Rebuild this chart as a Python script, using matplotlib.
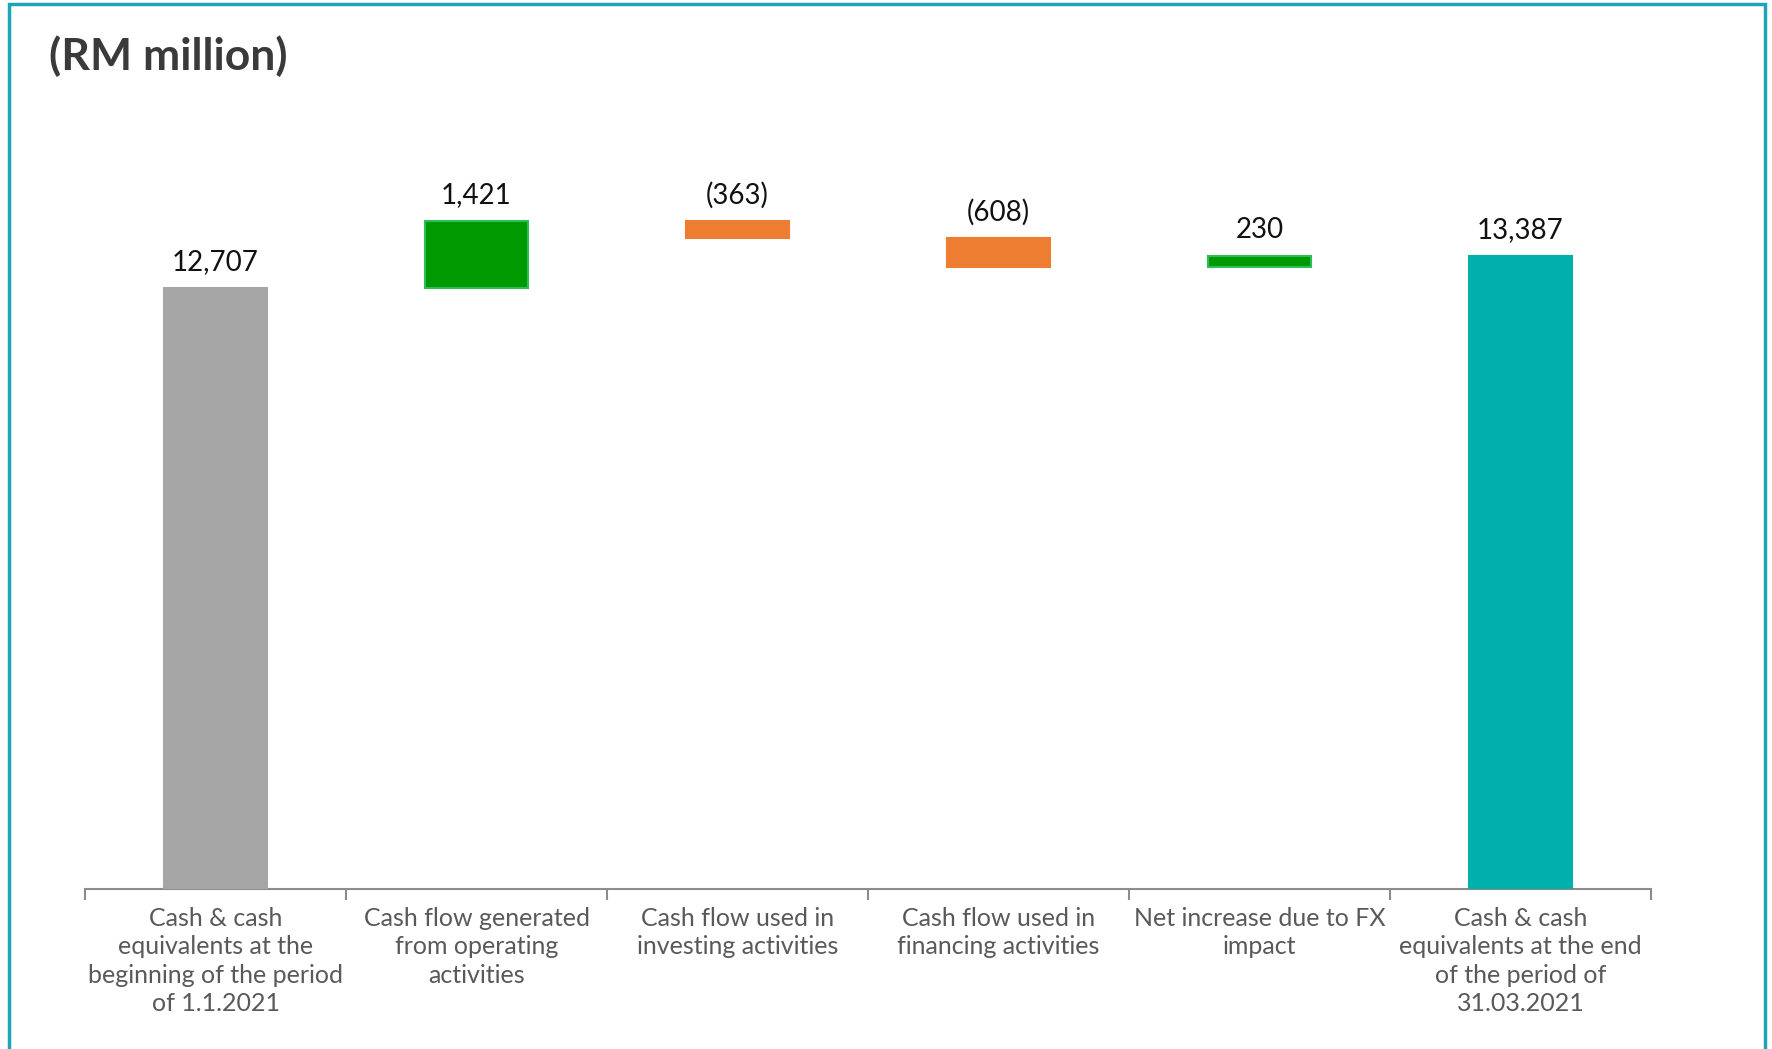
import matplotlib

matplotlib.use("Agg")
import matplotlib.pyplot as plt
from matplotlib.patches import Rectangle
import numpy as np

# data
categories = [
    "Cash & cash\nequivalents at the\nbeginning of the period\nof 1.1.2021",
    "Cash flow generated\nfrom operating\nactivities",
    "Cash flow used in\ninvesting activities",
    "Cash flow used in\nfinancing activities",
    "Net increase due to FX\nimpact",
    "Cash & cash\nequivalents at the end\nof the period of\n31.03.2021",
]
changes = [12707, 1421, -363, -608, 230]
closing = 13387
value_labels = ["12,707", "1,421", "(363)", "(608)", "230", "13,387"]

GRAY = "#A6A6A6"
GREEN = "#009A00"
GREEN_EDGE = "#2DBE5A"
ORANGE = "#ED7D31"
TEAL = "#00B0AA"
FRAME = "#1BA6B8"
TEXT = "#595959"

plt.rcParams["font.family"] = ["Lato", "DejaVu Sans"]

fig = plt.figure(figsize=(17.72, 10.49), dpi=100)
W, H = 1772, 1049
ax_left, ax_right, ax_top, ax_base = 85, 1651, 150, 889
ax = fig.add_axes([ax_left / W, 1 - ax_base / H,
                   (ax_right - ax_left) / W, (ax_base - ax_top) / H])

x = np.arange(len(categories))
bar_w = 0.395

# waterfall: first total, changes, final total
bottoms, heights, colors, edges = [], [], [], []
running = 0
for i, c in enumerate(changes):
    if i == 0:
        bottoms.append(0)
        heights.append(c)
        colors.append(GRAY)
        edges.append(GRAY)
    else:
        bottoms.append(running if c >= 0 else running + c)
        heights.append(abs(c))
        colors.append(GREEN if c >= 0 else ORANGE)
        edges.append(GREEN_EDGE if c >= 0 else ORANGE)
    running += c
bottoms.append(0)
heights.append(closing)
colors.append(TEAL)
edges.append(TEAL)

ax.bar(x, heights, bar_w, bottom=bottoms, color=colors, edgecolor=edges,
       linewidth=1.5, zorder=3)

for xi, b, h, lab in zip(x, bottoms, heights, value_labels):
    ax.annotate(lab, (xi, b + h), xytext=(0, 9), textcoords="offset points",
                ha="center", va="bottom", fontsize=20, color="#111111")

ax.set_xlim(-0.5, len(categories) - 0.5)
ax.set_ylim(0, 15625)
ax.set_yticks([])
for s in ["top", "right", "left"]:
    ax.spines[s].set_visible(False)
ax.spines["bottom"].set_color("#8C8C8C")
ax.spines["bottom"].set_linewidth(1.5)

ax.set_xticks(x)
ax.set_xticklabels(categories, fontsize=18, color=TEXT,
                   linespacing=1.28, va="top")
ax.tick_params(axis="x", which="major", length=0, pad=13)
ax.set_xticks(np.arange(-0.5, len(categories)), minor=True)
ax.tick_params(axis="x", which="minor", length=8, width=1.5, color="#8C8C8C")

fig.text(49 / W, 1 - 56 / H, "(RM million)", fontsize=32, fontweight="bold",
         color="#3A3A3A", ha="left", va="center")

# frame around the chart
fig.patches.append(Rectangle((9 / W, -0.02), (1765 - 9) / W, 1.02 - 4 / H,
                             transform=fig.transFigure, fill=False,
                             edgecolor=FRAME, linewidth=2.5))

fig.savefig("out.png", dpi=100)
plt.close(fig)
